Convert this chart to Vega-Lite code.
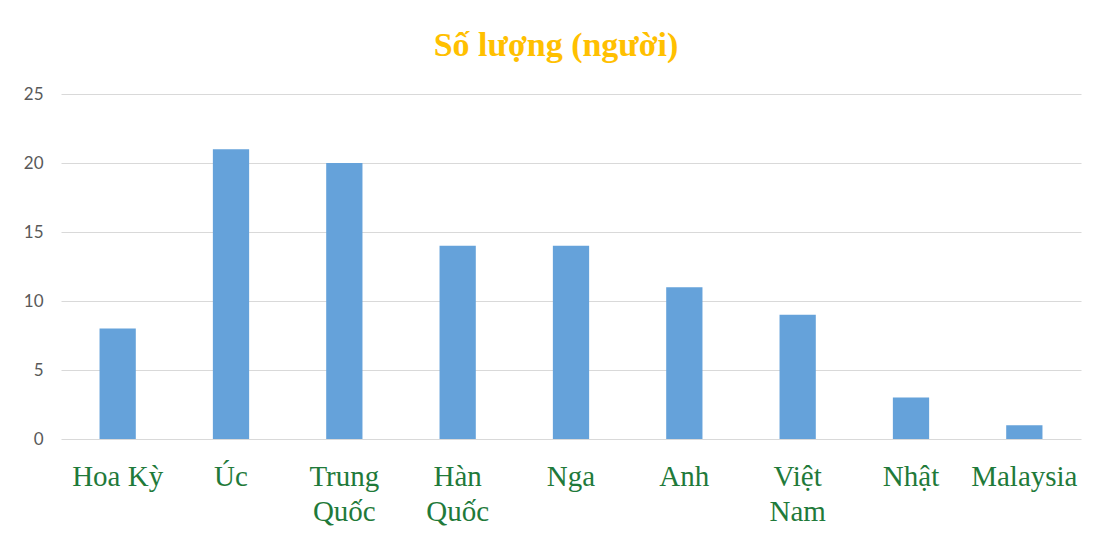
{
  "$schema": "https://vega.github.io/schema/vega-lite/v6.json",
  "autosize": "none",
  "width": 1020,
  "height": 345,
  "padding": {"left": 61, "top": 94, "right": 12, "bottom": 99},
  "background": "white",
  "title": {
    "text": "Số lượng (người)",
    "font": "Liberation Serif",
    "fontSize": 34,
    "fontWeight": "bold",
    "color": "#FFC000",
    "anchor": "middle",
    "baseline": "alphabetic",
    "offset": -5,
    "dx": -15
  },
  "data": {
    "values": [
      {"country": "Hoa Kỳ", "count": 8},
      {"country": "Úc", "count": 21},
      {"country": "Trung Quốc", "count": 20},
      {"country": "Hàn Quốc", "count": 14},
      {"country": "Nga", "count": 14},
      {"country": "Anh", "count": 11},
      {"country": "Việt Nam", "count": 9},
      {"country": "Nhật", "count": 3},
      {"country": "Malaysia", "count": 1}
    ]
  },
  "mark": {"type": "bar", "color": "#65A2DA"},
  "encoding": {
    "x": {
      "field": "country",
      "type": "nominal",
      "sort": null,
      "scale": {"paddingInner": 0.68, "paddingOuter": 0.34},
      "axis": {
        "title": null,
        "domain": false,
        "ticks": false,
        "labelAngle": 0,
        "labelFont": "Liberation Serif",
        "labelFontSize": 29,
        "labelColor": "#1F7A3A",
        "labelPadding": 23,
        "labelLineHeight": 35,
        "labelBaseline": "top",
        "labelExpr": "indexof(['Trung Quốc','Hàn Quốc','Việt Nam'], datum.value) >= 0 ? split(datum.value, ' ') : datum.value"
      }
    },
    "y": {
      "field": "count",
      "type": "quantitative",
      "scale": {"domain": [0, 25]},
      "axis": {
        "title": null,
        "domain": false,
        "ticks": false,
        "values": [0, 5, 10, 15, 20, 25],
        "labelFont": "Lato",
        "labelFontSize": 17,
        "labelColor": "#595959",
        "labelPadding": 18,
        "gridColor": "#D9D9D9",
        "gridWidth": 1
      }
    }
  },
  "config": {
    "view": {"stroke": null}
  }
}
